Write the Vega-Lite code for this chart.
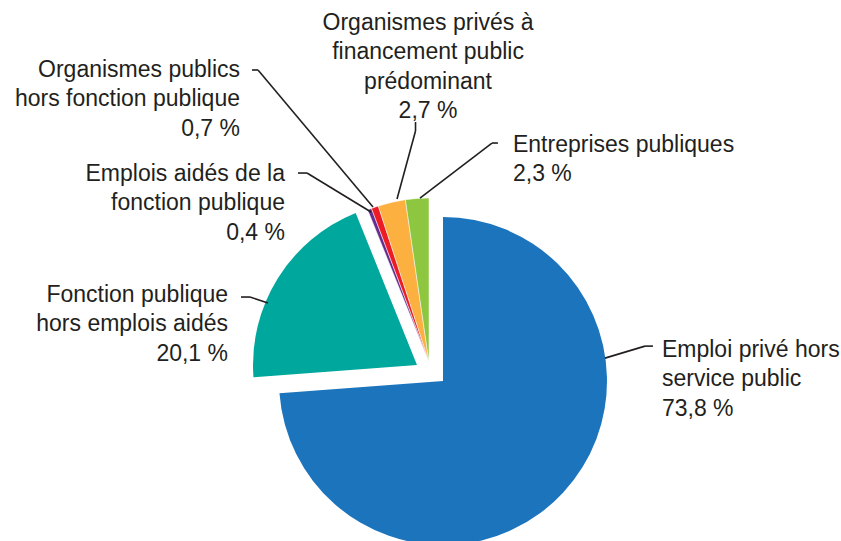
{
  "$schema": "https://vega.github.io/schema/vega-lite/v6.json",
  "autosize": "none",
  "width": 824,
  "height": 358,
  "padding": {"left": 17, "top": 183, "right": 0, "bottom": 0},
  "background": "white",
  "config": {
    "view": {"stroke": null},
    "text": {"font": "Liberation Sans", "fontSize": 23, "fill": "#231F20", "lineHeight": 29.3, "lineBreak": "\n", "baseline": "alphabetic"},
    "rule": {"color": "#231F20", "strokeWidth": 1.6}
  },
  "data": {
    "values": [
      {"cat": "Emploi privé hors\nservice public", "share": 73.8},
      {"cat": "Fonction publique\nhors emplois aidés", "share": 20.1},
      {"cat": "Emplois aidés de la\nfonction publique", "share": 0.4},
      {"cat": "Organismes publics\nhors fonction publique", "share": 0.7},
      {"cat": "Organismes privés à\nfinancement public\nprédominant", "share": 2.7},
      {"cat": "Entreprises publiques", "share": 2.3}
    ]
  },
  "transform": [
    {"window": [{"op": "row_number", "as": "idx"}]},
    {"stack": "share", "groupby": [], "sort": [{"field": "idx"}], "as": ["s0", "s1"]},
    {"calculate": "PI * (datum.s0 + datum.s1) / 100", "as": "mid"},
    {"calculate": "sin(datum.mid)", "as": "ax"},
    {"calculate": "cos(datum.mid)", "as": "ay"},
    {"calculate": "datum.cat + '\\n' + replace(format(datum.share, '.1f'), '.', ',') + ' %'", "as": "lbl"}
  ],
  "layer": [
    {
      "transform": [{"filter": "datum.idx === 1"}],
      "mark": {"type": "arc", "outerRadius": 164, "xOffset": 14, "yOffset": 19},
      "encoding": {
        "theta": {"field": "s0", "type": "quantitative", "scale": {"domain": [0, 100]}},
        "theta2": {"field": "s1"},
        "color": {"field": "cat", "type": "nominal", "legend": null,
          "scale": {"domain": ["Emploi privé hors\nservice public", "Fonction publique\nhors emplois aidés", "Emplois aidés de la\nfonction publique", "Organismes publics\nhors fonction publique", "Organismes privés à\nfinancement public\nprédominant", "Entreprises publiques"],
                    "range": ["#1C75BC", "#00A79D", "#662D91", "#ED1C24", "#FBB040", "#8DC63F"]}}
      }
    },
    {
      "transform": [{"filter": "datum.idx === 2"}],
      "mark": {"type": "arc", "outerRadius": 164, "xOffset": -12, "yOffset": 3},
      "encoding": {
        "theta": {"field": "s0", "type": "quantitative", "scale": {"domain": [0, 100]}},
        "theta2": {"field": "s1"},
        "color": {"field": "cat", "type": "nominal", "legend": null}
      }
    },
    {
      "transform": [{"filter": "datum.idx > 2"}],
      "mark": {"type": "arc", "outerRadius": 164, "stroke": "white", "strokeWidth": 0.5},
      "encoding": {
        "theta": {"field": "s0", "type": "quantitative", "scale": {"domain": [0, 100]}},
        "theta2": {"field": "s1"},
        "color": {"field": "cat", "type": "nominal", "legend": null}
      }
    },
    {
      "encoding": {
        "x": {"field": "ax", "type": "quantitative", "scale": {"domain": [-2.5122, 2.5122], "nice": false, "zero": false}, "axis": null},
        "y": {"field": "ay", "type": "quantitative", "scale": {"domain": [-1.09146, 1.09146], "nice": false, "zero": false}, "axis": null}
      },
      "layer": [
        {
          "transform": [{"filter": "datum.idx === 1"}],
          "layer": [
            {"mark": {"type": "rule", "xOffset": 55.7, "yOffset": -115.4, "x2Offset": 95.7, "y2Offset": -127.4}, "encoding": {"x2": {"field": "ax"}, "y2": {"field": "ay"}}},
            {"mark": {"type": "rule", "xOffset": 95.7, "yOffset": -127.4, "x2Offset": 103.7, "y2Offset": -127.4}, "encoding": {"x2": {"field": "ax"}, "y2": {"field": "ay"}}},
            {"mark": {"type": "text", "align": "left", "dx": 112.7, "dy": -116.4}, "encoding": {"text": {"field": "lbl"}}}
          ]
        },
        {
          "transform": [{"filter": "datum.idx === 2"}],
          "layer": [
            {"mark": {"type": "rule", "xOffset": -21.7, "yOffset": 27.6, "x2Offset": -39.7, "y2Offset": 21.6}, "encoding": {"x2": {"field": "ax"}, "y2": {"field": "ay"}}},
            {"mark": {"type": "rule", "xOffset": -39.7, "yOffset": 21.6, "x2Offset": -48.7, "y2Offset": 21.6}, "encoding": {"x2": {"field": "ax"}, "y2": {"field": "ay"}}},
            {"mark": {"type": "text", "align": "right", "dx": -61.7, "dy": 26.6}, "encoding": {"text": {"field": "lbl"}}}
          ]
        },
        {
          "transform": [{"filter": "datum.idx === 3"}],
          "layer": [
            {"mark": {"type": "rule", "xOffset": 1.4, "yOffset": 2.9, "x2Offset": -62.6, "y2Offset": -36.1}, "encoding": {"x2": {"field": "ax"}, "y2": {"field": "ay"}}},
            {"mark": {"type": "rule", "xOffset": -62.6, "yOffset": -36.1, "x2Offset": -71.6, "y2Offset": -36.1}, "encoding": {"x2": {"field": "ax"}, "y2": {"field": "ay"}}},
            {"mark": {"type": "text", "align": "right", "dx": -84.6, "dy": -28.1}, "encoding": {"text": {"field": "lbl"}}}
          ]
        },
        {
          "transform": [{"filter": "datum.idx === 4"}],
          "layer": [
            {"mark": {"type": "rule", "xOffset": -1.9, "yOffset": -0.2, "x2Offset": -116.9, "y2Offset": -137.2}, "encoding": {"x2": {"field": "ax"}, "y2": {"field": "ay"}}},
            {"mark": {"type": "rule", "xOffset": -116.9, "yOffset": -137.2, "x2Offset": -122.9, "y2Offset": -137.2}, "encoding": {"x2": {"field": "ax"}, "y2": {"field": "ay"}}},
            {"mark": {"type": "text", "align": "right", "dx": -134.9, "dy": -130.2}, "encoding": {"text": {"field": "lbl"}}}
          ]
        },
        {
          "transform": [{"filter": "datum.idx === 5"}],
          "layer": [
            {"mark": {"type": "rule", "xOffset": 5.3, "yOffset": -3.3, "x2Offset": 23.8, "y2Offset": -71.3}, "encoding": {"x2": {"field": "ax"}, "y2": {"field": "ay"}}},
            {"mark": {"type": "rule", "xOffset": 23.8, "yOffset": -71.3, "x2Offset": 23.8, "y2Offset": -80.3}, "encoding": {"x2": {"field": "ax"}, "y2": {"field": "ay"}}},
            {"mark": {"type": "text", "align": "center", "dx": 36.3, "dy": -172.3}, "encoding": {"text": {"field": "lbl"}}}
          ]
        },
        {
          "transform": [{"filter": "datum.idx === 6"}],
          "layer": [
            {"mark": {"type": "rule", "xOffset": 2.8, "yOffset": -0.4, "x2Offset": 74.8, "y2Offset": -55.4}, "encoding": {"x2": {"field": "ax"}, "y2": {"field": "ay"}}},
            {"mark": {"type": "rule", "xOffset": 74.8, "yOffset": -55.4, "x2Offset": 80.8, "y2Offset": -55.4}, "encoding": {"x2": {"field": "ax"}, "y2": {"field": "ay"}}},
            {"mark": {"type": "text", "align": "left", "dx": 95.8, "dy": -46.4}, "encoding": {"text": {"field": "lbl"}}}
          ]
        }
      ]
    }
  ]
}
